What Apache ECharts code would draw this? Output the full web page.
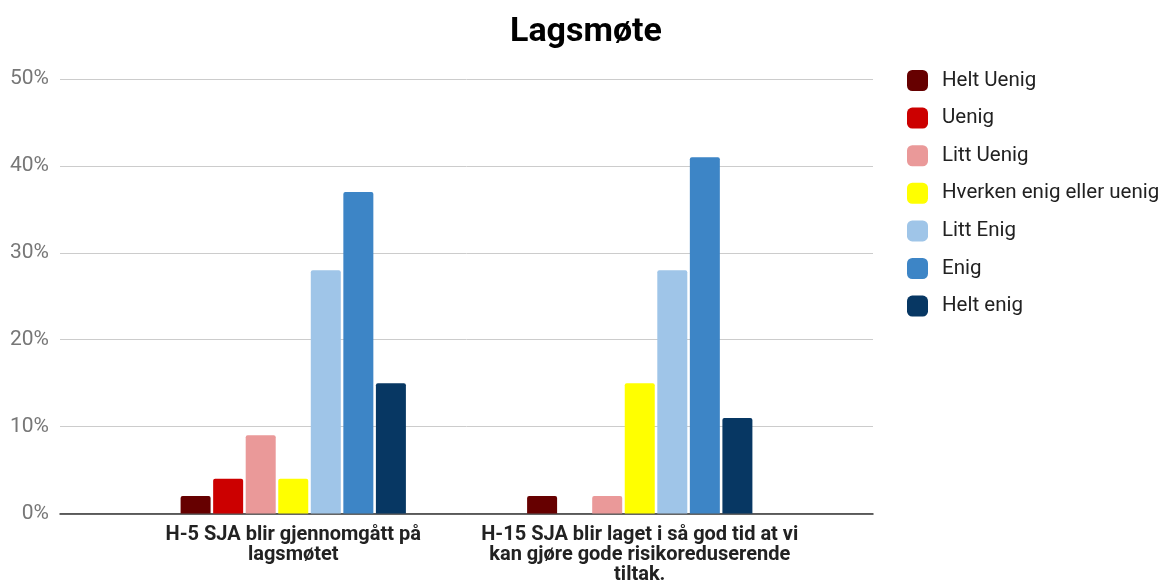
<!DOCTYPE html>
<html>
<head>
<meta charset="utf-8">
<script src="https://cdn.jsdelivr.net/npm/echarts@6/dist/echarts.min.js"></script>
<style>
  html, body { margin: 0; padding: 0; background: #fff; }
  #chart { width: 1161px; height: 582px; }
</style>
</head>
<body>
<div id="chart"></div>
<script>
// Statements answered at the team meeting
const categories = [
  'H-5 SJA blir gjennomgått på\nlagsmøtet',
  'H-15 SJA blir laget i så god tid at vi\nkan gjøre gode risikoreduserende\ntiltak.'
];

// Share of answers per response option (%)
const heltUenig = [2, 2];
const uenig = [4, 0];
const littUenig = [9, 2];
const hverken = [4, 15];
const littEnig = [28, 28];
const enig = [37, 41];
const heltEnig = [15, 11];

const seriesNames = ['Helt Uenig', 'Uenig', 'Litt Uenig', 'Hverken enig eller uenig', 'Litt Enig', 'Enig', 'Helt enig'];
const seriesData = [heltUenig, uenig, littUenig, hverken, littEnig, enig, heltEnig];
const colors = ['#660000', '#cc0000', '#ea9999', '#ffff00', '#9fc5e8', '#3d85c6', '#073763'];

const yTicks = [0, 10, 20, 30, 40, 50];

const font = 'Roboto, "Noto Sans", sans-serif';

const chart = echarts.init(document.getElementById('chart'), null, { renderer: 'canvas' });

chart.setOption({
  animation: false,
  color: colors,
  title: {
    text: 'Lagsmøte',
    left: 581,
    textAlign: 'center',
    top: 10,
    textStyle: { fontFamily: font, fontSize: 34, fontWeight: 'bold', color: '#000' }
  },
  legend: {
    orient: 'vertical',
    left: 902,
    top: 65,
    itemWidth: 21,
    itemHeight: 21,
    itemGap: 16.6,
    icon: 'roundRect',
    data: seriesNames,
    textStyle: { fontFamily: font, fontSize: 20.5, color: '#222', padding: [0, 0, 0, 9] }
  },
  grid: [
    // frame with the value scale and gridlines
    { left: 60, right: 288, top: 79, bottom: 68.5, containLabel: false, outerBoundsMode: 'none' },
    // bars and category labels
    { left: 120, right: 348, top: 79, bottom: 68.5, containLabel: false, outerBoundsMode: 'none' }
  ],
  xAxis: [
    {
      gridIndex: 0, type: 'value', min: 0, max: 1,
      axisLine: { show: true, onZero: false, lineStyle: { color: '#333', width: 1.5 } },
      axisTick: { show: false }, axisLabel: { show: false }, splitLine: { show: false }
    },
    {
      gridIndex: 1, type: 'category', data: categories,
      axisLine: { show: false }, axisTick: { show: false },
      axisLabel: {
        fontFamily: font, fontSize: 20, fontWeight: 'bold', color: '#222',
        lineHeight: 20, margin: 11, interval: 0, align: 'center'
      }
    }
  ],
  yAxis: [
    {
      gridIndex: 0, type: 'value', min: yTicks[0], max: yTicks[yTicks.length - 1], interval: 10,
      axisLine: { show: false }, axisTick: { show: false },
      axisLabel: { formatter: '{value}%', fontFamily: font, fontSize: 21, color: '#777777', margin: 11 },
      splitLine: { lineStyle: { color: '#cccccc', width: 1 } }
    },
    {
      gridIndex: 1, type: 'value', min: yTicks[0], max: yTicks[yTicks.length - 1], interval: 10,
      show: false
    }
  ],
  series: seriesNames.map((name, i) => ({
    name: name,
    type: 'bar',
    xAxisIndex: 1,
    yAxisIndex: 1,
    data: seriesData[i],
    barWidth: 30,
    barGap: '8.5%',
    itemStyle: { color: colors[i], borderRadius: [2, 2, 0, 0] }
  }))
});
</script>
</body>
</html>
